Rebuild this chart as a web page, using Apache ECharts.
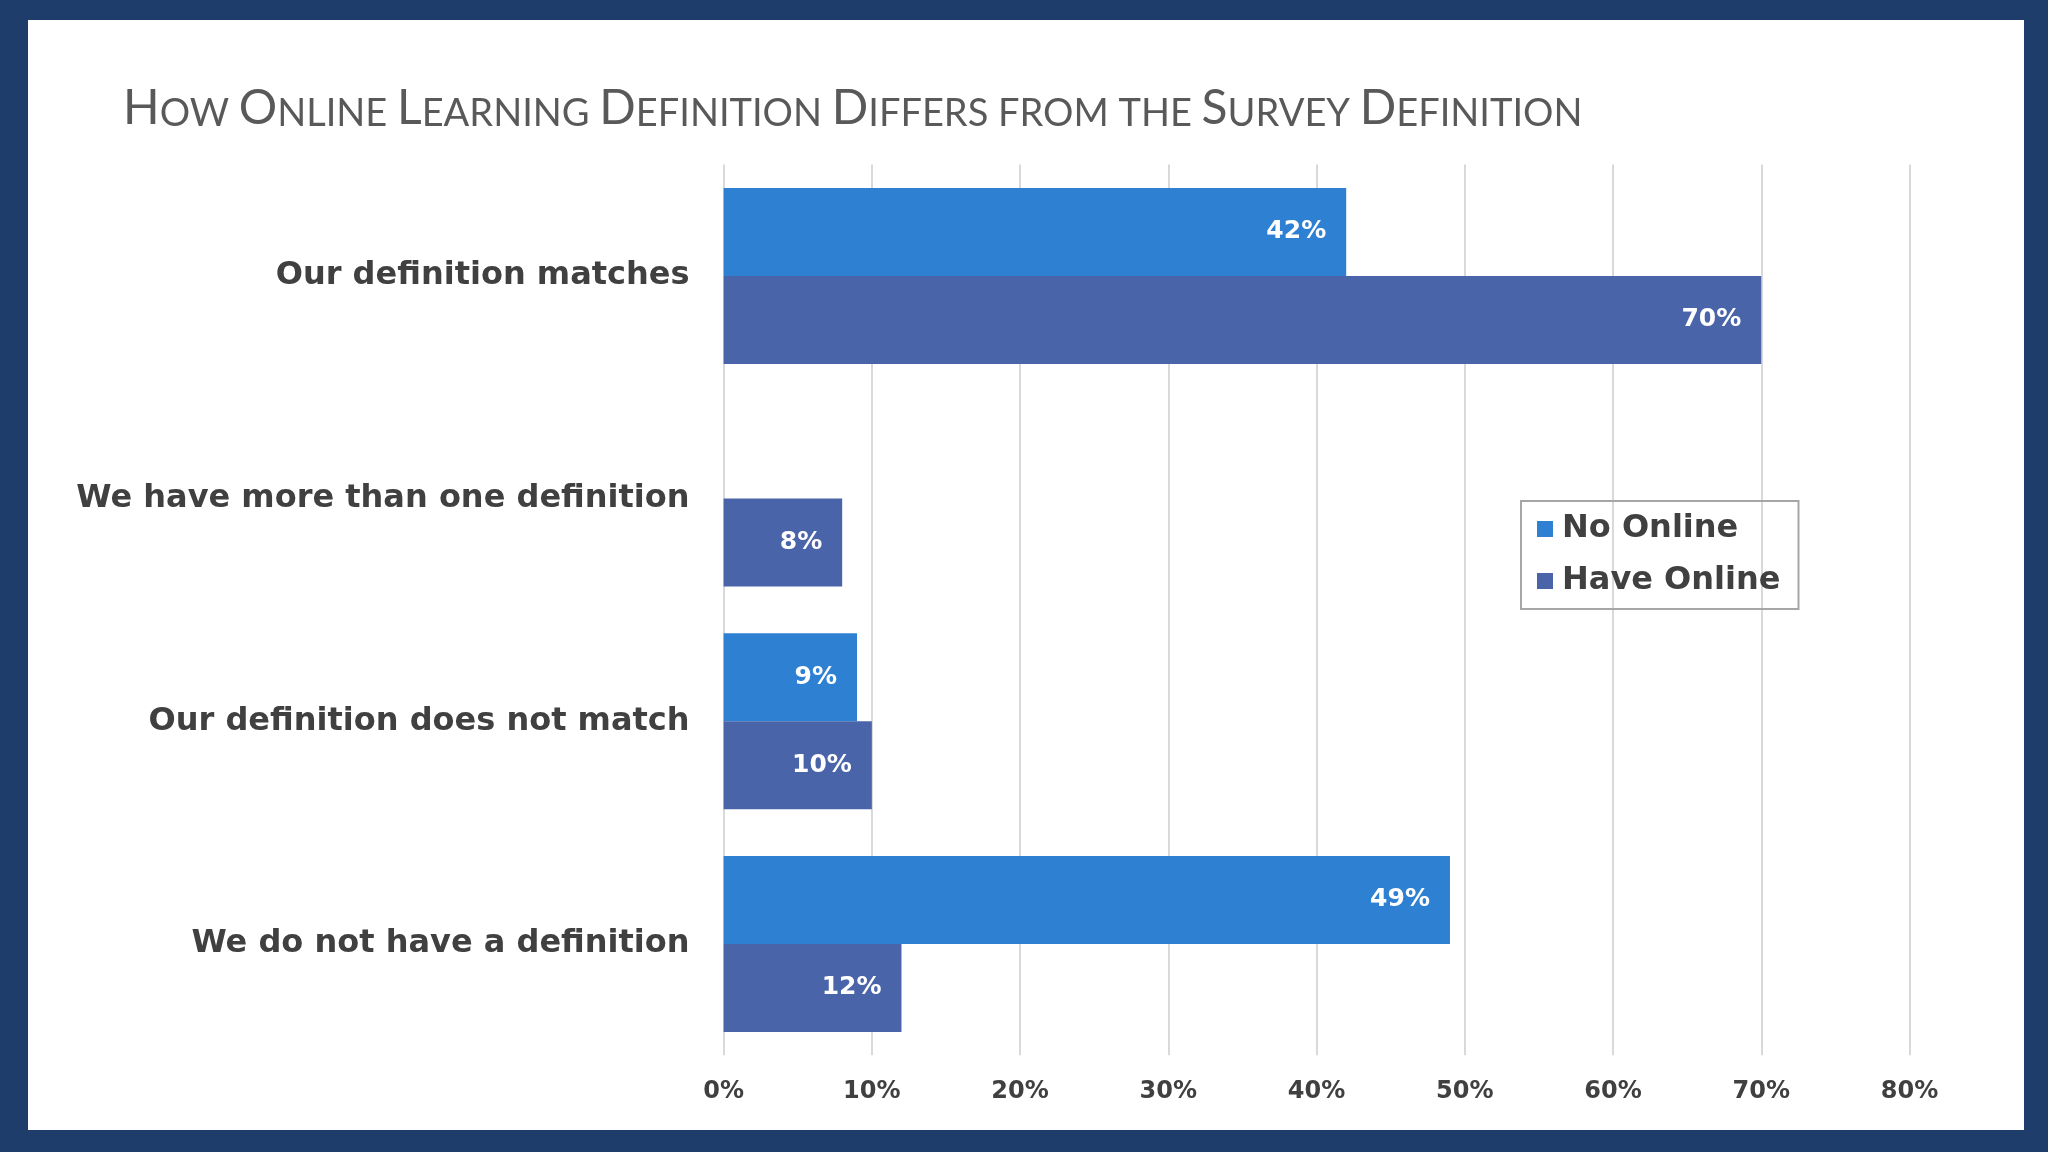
<!DOCTYPE html>
<html>
<head>
<meta charset="utf-8">
<script src="https://cdn.jsdelivr.net/npm/echarts@6/dist/echarts.min.js"></script>
<style>
html,body{margin:0;padding:0;width:2048px;height:1152px;background:#1f3d6b;overflow:hidden;}
#panel{position:absolute;left:28px;top:20px;width:1996px;height:1110px;background:#ffffff;}
#chart{width:1996px;height:1110px;}
</style>
</head>
<body>
<div id="panel"><div id="chart"></div></div>
<script>
const categories = [
  "Our definition matches",
  "We have more than one definition",
  "Our definition does not match",
  "We do not have a definition"
];
const noOnline = [42, null, 9, 49];
const haveOnline = [70, 8, 10, 12];
const xTicks = [0, 10, 20, 30, 40, 50, 60, 70, 80];
const seriesNames = ["No Online", "Have Online"];

const chart = echarts.init(document.getElementById('chart'));
const labelStyle = {
  show: true,
  position: 'insideRight',
  distance: 20,
  color: '#ffffff',
  fontFamily: 'DejaVu Sans',
  fontWeight: 'bold',
  fontSize: 25,
  formatter: p => p.value + '%'
};
chart.setOption({
  animation: false,
  title: {
    left: 90,
    top: 60,
    text: '{b|H}{s|OW }{b|O}{s|NLINE }{b|L}{s|EARNING }{b|D}{s|EFINITION }{b|D}{s|IFFERS FROM THE }{b|S}{s|URVEY }{b|D}{s|EFINITION}',
    textStyle: {
      rich: {
        b: {fontFamily: 'Lato', fontWeight: 'normal', fontSize: 48, color: '#595959', verticalAlign: 'bottom'},
        s: {fontFamily: 'Lato', fontWeight: 'normal', fontSize: 38, color: '#595959', verticalAlign: 'bottom'}
      }
    }
  },
  legend: {
    orient: 'vertical',
    left: 1493,
    top: 481,
    data: seriesNames,
    icon: 'rect',
    itemWidth: 16,
    itemHeight: 16,
    itemGap: 20,
    padding: [12, 18, 12, 16],
    borderColor: '#a6a6a6',
    borderWidth: 2,
    textStyle: {fontFamily: 'DejaVu Sans', fontWeight: 'bold', fontSize: 32, color: '#404040', padding: [0, 0, 0, 4]}
  },
  grid: {left: 695.6, right: 114.5, top: 144.6, bottom: 74.7, containLabel: false},
  xAxis: {
    type: 'value',
    min: 0,
    max: 80,
    interval: 10,
    axisLine: {show: false},
    axisTick: {show: false},
    splitLine: {lineStyle: {color: '#d9d9d9', width: 2}},
    axisLabel: {
      margin: 24,
      fontFamily: 'DejaVu Sans',
      fontWeight: 'bold',
      fontSize: 24,
      color: '#404040',
      formatter: v => xTicks.includes(v) ? v + '%' : ''
    }
  },
  yAxis: {
    type: 'category',
    inverse: true,
    data: categories,
    axisLine: {show: false},
    axisTick: {show: false},
    axisLabel: {
      margin: 34,
      fontFamily: 'DejaVu Sans',
      fontWeight: 'bold',
      fontSize: 32,
      color: '#404040'
    }
  },
  series: [
    {
      name: seriesNames[0],
      type: 'bar',
      data: noOnline,
      barGap: '0%',
      barCategoryGap: '21%',
      itemStyle: {color: '#2e80d3'},
      label: labelStyle
    },
    {
      name: seriesNames[1],
      type: 'bar',
      data: haveOnline,
      barGap: '0%',
      barCategoryGap: '21%',
      itemStyle: {color: '#4a64a9'},
      label: labelStyle
    }
  ]
});
</script>
</body>
</html>
